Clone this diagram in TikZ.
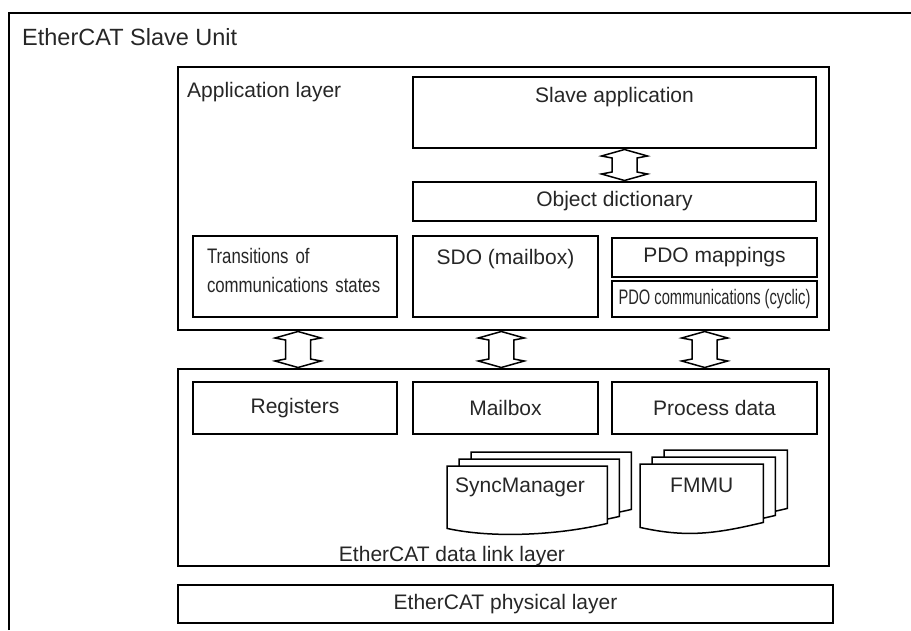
\documentclass[tikz,border=0pt]{standalone}
\usepackage{fontspec}
\setmainfont{Liberation Sans}
\newfontfamily\narrowfont[FakeStretch=0.70]{Liberation Sans}
\newfontfamily\semifont[FakeStretch=0.80]{Liberation Sans}
\usetikzlibrary{calc,positioning}
\pgfdeclarelayer{bg}
\pgfsetlayers{bg,main}
\tikzset{
  frame/.style={line width=2pt},
  box/.style={draw,line width=1.6pt,rectangle,inner sep=0,outer sep=0,anchor=north west,
              text=black!85,font=\fontsize{21}{25}\selectfont},
  layer/.style={box,line width=2.5pt},
  txt/.style={inner sep=0,text=black!85,font=\fontsize{21}{25}\selectfont},
  page/.style={draw,line width=1.5pt,fill=white,line join=miter},
  dblarr/.style={draw,line width=1.5pt,fill=white,line join=miter}
}
% hollow double arrow from node #1 down to node #2, at the x of #3
\newcommand{\updown}[3]{\draw[dblarr] let \p1=(#1.south -| #3), \p2=(#2.north -| #3) in
    (\x1,\y1-1.5pt) -- ++(23pt,-6.5pt) -- ++(-10.5pt,-2pt) -- (\x1+12.5pt,\y2+10pt)
    -- ++(10.5pt,-2pt) -- (\x1,\y2+1.5pt) -- ++(-23pt,6.5pt) -- ++(10.5pt,2pt)
    -- (\x1-12.5pt,\y1-10pt) -- ++(-10.5pt,2pt) -- cycle;}
% stack of pages (wavy bottom) behind node #1
\newcommand{\pages}[1]{\begin{pgfonlayer}{bg}
  \foreach \k in {2,1,0}{%
    \draw[page] ([shift={(12*\k,-7*\k)}]#1.north west) -- ([shift={(12*\k,-7*\k)}]#1.north east)
      -- ([shift={(12*\k,-7*\k)}]#1.south east) .. controls +(-50,12) and +(45,10) ..
      ([shift={(12*\k,5-7*\k)}]#1.south west) -- cycle;
  }
  \end{pgfonlayer}}

\begin{document}
\begin{tikzpicture}[x=1pt,y=-1pt]
\useasboundingbox (0,0) rectangle (911,630);
% Outer frame
\draw[frame] (9,630) -- (9,13) -- (911,13);
\node[txt,anchor=base west,font=\fontsize{23.5}{28}\selectfont] (title) at (22,45) {EtherCAT Slave Unit};

% Application layer
\node[layer,minimum width=651,minimum height=263] (app) at (178,67) {};
\node[txt,anchor=base west] (applbl) at ([shift={(9,30)}]app.north west) {Application layer};
\node[box,minimum width=403,minimum height=71,text height=25,text depth=46] (slave) at (413,77) {Slave application};
\node[box,minimum width=403,minimum height=39,below right=34pt and 0pt of slave.south west] (dict) {Object dictionary};
\node[box,minimum width=204,minimum height=81,text width=176,align=left,text height=27,text depth=54,
      font=\semifont\fontsize{21}{29}\selectfont] (trans) at (193,236) {Transitions of\\communications states};
\node[box,minimum width=185,minimum height=81,text height=28,text depth=53,right=16pt of trans] (sdo) {SDO (mailbox)};
\node[box,minimum width=205,minimum height=39] (pdomap) at (612,238) {PDO mappings};
\node[box,minimum width=205,minimum height=36,below=4pt of pdomap,font=\narrowfont\fontsize{21}{25}\selectfont] (pdocom) {PDO communications (cyclic)};

% Data link layer
\node[layer,minimum width=651,minimum height=197] (dll) at (178,369) {};
\node[box,minimum width=204,minimum height=52] (reg) at (193,382) {Registers};
\node[box,minimum width=185,minimum height=52,right=16pt of reg] (mbox) {Mailbox};
\node[box,minimum width=205,minimum height=52,right=14pt of mbox] (pd) {Process data};
\node[inner sep=0,anchor=north west,minimum width=160,text width=144,align=left,text height=26,text depth=31,
      text=black!85,font=\fontsize{21}{25}\selectfont] (sm) at (447,466) {SyncManager};
\node[inner sep=0,anchor=north west,text width=123,align=center,text height=28,text depth=30,
      text=black!85,font=\fontsize{21}{25}\selectfont] (fmmu) at (640,464) {FMMU};
\pages{sm}
\pages{fmmu}
\node[txt,anchor=base] (dlllbl) at (452,561) {EtherCAT data link layer};

% Physical layer
\node[box,line width=1.4pt,minimum width=655,minimum height=38] (phy) at (178,585) {EtherCAT physical layer};

% Double arrows
\coordinate (ax0) at (624.5,0);
\coordinate (ax1) at (298,0);
\coordinate (ax2) at (501.3,0);
\coordinate (ax3) at (704.7,0);
\updown{slave}{dict}{ax0}
\foreach \i in {1,2,3}{\updown{app}{dll}{ax\i}}
\end{tikzpicture}
\end{document}
